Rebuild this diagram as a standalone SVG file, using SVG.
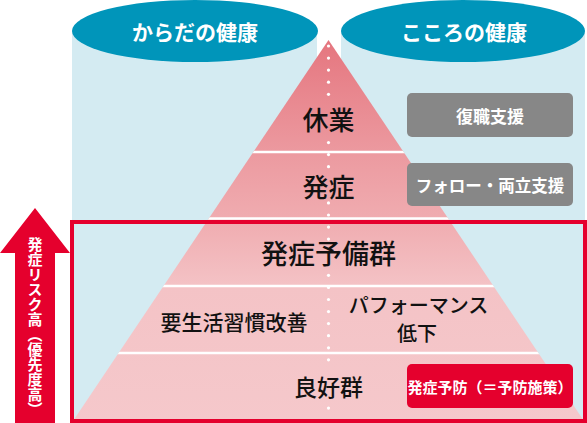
<svg xmlns="http://www.w3.org/2000/svg" width="587" height="423" viewBox="0 0 587 423">
<style>
.jp{font-family:"Noto Sans CJK JP","Noto Sans",sans-serif;}
.hd{fill:#fff;font-size:21px;font-weight:700;text-anchor:middle;dominant-baseline:central;}
.lv{fill:#111;font-weight:500;text-anchor:middle;dominant-baseline:central;}
.bx{fill:#fff;font-weight:700;text-anchor:middle;dominant-baseline:central;}
.dot{fill:#fff;}
.div{stroke:#fff;stroke-width:2.5;}
</style>
<defs>
<linearGradient id="pg" gradientUnits="userSpaceOnUse" x1="0" y1="40" x2="0" y2="421">
<stop offset="0" stop-color="#e5767f"/>
<stop offset="0.3" stop-color="#ec9aa0"/>
<stop offset="0.48" stop-color="#f0adb1"/>
<stop offset="0.65" stop-color="#f4c3c6"/>
<stop offset="1" stop-color="#f5c8cb"/>
</linearGradient>
<clipPath id="pc"><polygon points="328.5,40 73,421 584,421"/></clipPath>
</defs>
<g id="cylinder-body">
<rect x="72" y="31" width="245" height="392" fill="#d4ebf2"/>
<ellipse cx="195" cy="31" rx="123" ry="31" fill="#0095ba"/>
<text class="jp hd" x="195" y="31">からだの健康</text>
</g>
<g id="cylinder-mind">
<rect x="341" y="31" width="244" height="392" fill="#d4ebf2"/>
<ellipse cx="463" cy="31" rx="122" ry="31" fill="#0095ba"/>
<text class="jp hd" x="464" y="31">こころの健康</text>
</g>
<g id="pyramid">
<polygon points="328.5,40 73,421 584,421" fill="url(#pg)"/>
<g clip-path="url(#pc)">
<line class="div" x1="60" y1="152" x2="600" y2="152"/>
<line class="div" x1="60" y1="218.5" x2="600" y2="218.5"/>
<line class="div" x1="60" y1="286" x2="600" y2="286"/>
<line class="div" x1="60" y1="353" x2="600" y2="353"/>
</g>
</g>
<g id="connectors">
<circle class="dot" cx="328.5" cy="46" r="1.6"/>
<circle class="dot" cx="328.5" cy="58.1" r="1.6"/>
<circle class="dot" cx="328.5" cy="70.1" r="1.6"/>
<circle class="dot" cx="328.5" cy="82.2" r="1.6"/>
<circle class="dot" cx="328.5" cy="94.3" r="1.6"/>
<circle class="dot" cx="328.5" cy="142.6" r="1.6"/>
<circle class="dot" cx="328.5" cy="154.6" r="1.6"/>
<circle class="dot" cx="328.5" cy="166.7" r="1.6"/>
<circle class="dot" cx="328.5" cy="202.9" r="1.6"/>
<circle class="dot" cx="328.5" cy="215" r="1.6"/>
<circle class="dot" cx="328.5" cy="227.1" r="1.6"/>
<circle class="dot" cx="328.5" cy="239.1" r="1.6"/>
<circle class="dot" cx="328.5" cy="275.3" r="1.6"/>
<circle class="dot" cx="328.5" cy="287.4" r="1.6"/>
<circle class="dot" cx="328.5" cy="299.5" r="1.6"/>
<circle class="dot" cx="328.5" cy="311.6" r="1.6"/>
<circle class="dot" cx="328.5" cy="323.6" r="1.6"/>
<circle class="dot" cx="328.5" cy="335.7" r="1.6"/>
<circle class="dot" cx="328.5" cy="347.8" r="1.6"/>
<circle class="dot" cx="328.5" cy="359.8" r="1.6"/>
<circle class="dot" cx="328.5" cy="408.1" r="1.6"/>
</g>
<g id="level-kyugyo"><text class="jp lv" x="328.5" y="118" font-size="26">休業</text></g>
<g id="level-hassho"><text class="jp lv" x="328.5" y="185" font-size="26">発症</text></g>
<g id="level-yobigun"><text class="jp lv" x="328.5" y="252" font-size="27">発症予備群</text></g>
<g id="level-seikatsu"><text class="jp lv" x="234" y="321" font-size="21">要生活習慣改善</text></g>
<g id="level-performance">
<text class="jp lv" x="418.5" y="304" font-size="20">パフォーマンス</text>
<text class="jp lv" x="417" y="332" font-size="20">低下</text>
</g>
<g id="level-ryoko"><text class="jp lv" x="328.5" y="386" font-size="23">良好群</text></g>
<g id="box-fukushoku">
<rect x="407" y="93" width="166" height="44" rx="5" fill="#878787"/>
<text class="jp bx" x="490" y="115" font-size="17">復職支援</text>
</g>
<g id="box-follow">
<rect x="407" y="163" width="166" height="43" rx="5" fill="#878787"/>
<text class="jp bx" x="490" y="184.5" font-size="16.5">フォロー・両立支援</text>
</g>
<g id="frame">
<rect x="72" y="222" width="513" height="199" fill="none" stroke="#e5002d" stroke-width="4"/>
</g>
<g id="box-yobo">
<rect x="407" y="364" width="166" height="44" rx="5" fill="#e5002d"/>
<text class="jp bx" x="490" y="386" font-size="15">発症予防（＝予防施策）</text>
</g>
<g id="arrow">
<polygon points="35,208 70,253 55,253 55,423 15,423 15,253 0,253" fill="#e5002d"/>
<text class="jp" x="35" y="237" font-size="15" font-weight="700" fill="#fff" writing-mode="vertical-rl">発症リスク高（優先度高）</text>
</g>
</svg>
